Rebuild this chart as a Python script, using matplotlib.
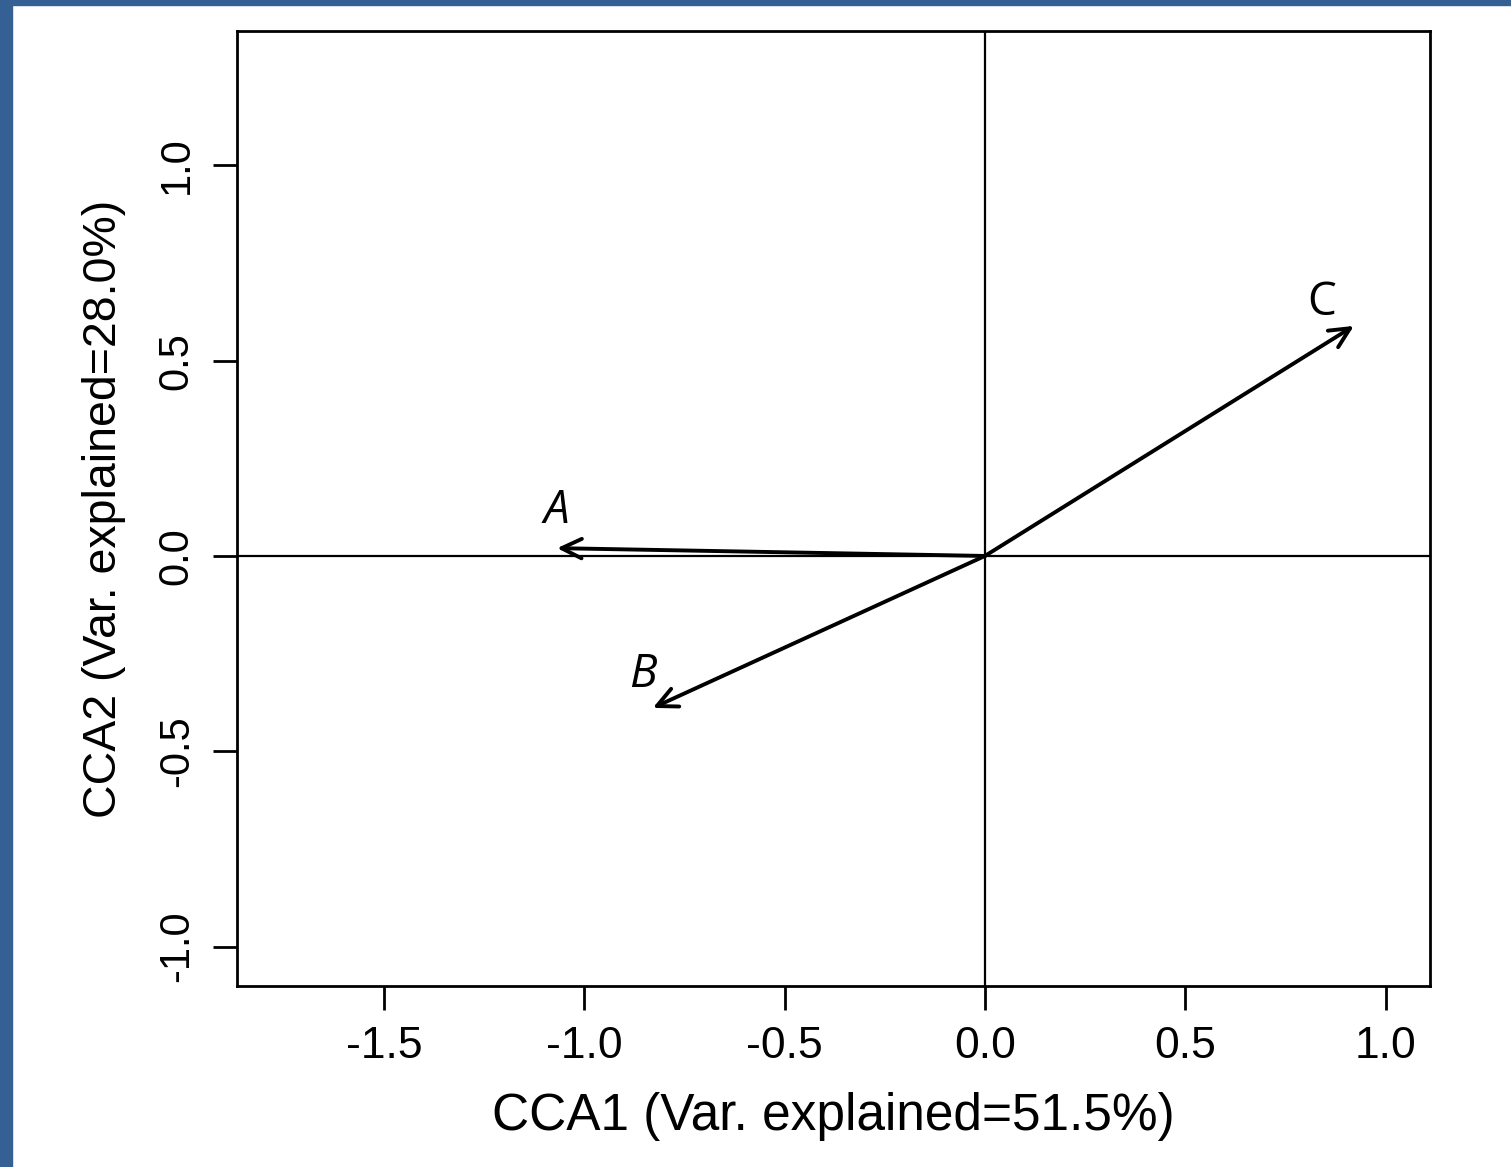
import matplotlib
matplotlib.use("Agg")
import matplotlib.pyplot as plt
from matplotlib.patches import Rectangle

# arrow tips (CCA1, CCA2)
names = ["A", "B", "C"]
cca1 = [-1.068, -0.829, 0.921]
cca2 = [0.020, -0.389, 0.589]
label_x = [-1.07, -0.855, 0.84]
label_y = [0.115, -0.305, 0.648]
label_style = ["italic", "italic", "normal"]

xticks = [-1.5, -1.0, -0.5, 0.0, 0.5, 1.0]
yticks = [-1.0, -0.5, 0.0, 0.5, 1.0]

plt.rcParams['font.family'] = ['Liberation Sans', 'DejaVu Sans']

fig = plt.figure(figsize=(15.11, 11.67), dpi=100)
ax = fig.add_axes([237/1511, 1 - 986/1167, (1430-237)/1511, (986-31)/1167])

ax.set_xlim(-1.867, 1.111)
ax.set_ylim(-1.101, 1.344)
ax.axhline(0, color='black', lw=1.6)
ax.axvline(0, color='black', lw=1.6)

for i in range(len(names)):
    ax.annotate("", xy=(cca1[i], cca2[i]), xytext=(0, 0),
                arrowprops=dict(arrowstyle="->,head_length=1.45,head_width=0.7",
                                color='black', lw=2.8, shrinkA=0, shrinkB=0))
    ax.text(label_x[i], label_y[i], names[i], fontsize=33, style=label_style[i],
            ha='center', va='center', family=['Open Sans', 'DejaVu Sans'])

ax.set_xticks(xticks)
ax.set_xticklabels([f"{v:.1f}" for v in xticks])
ax.set_yticks(yticks)
ax.set_yticklabels([f"{v:.1f}" for v in yticks], rotation=90, va='center')
ax.tick_params(length=17, width=2, pad=12)
ax.tick_params(axis='x', labelsize=32)
ax.tick_params(axis='y', labelsize=30)
for s in ax.spines.values():
    s.set_linewidth(2)

ax.set_xlabel("CCA1 (Var. explained=51.5%)", fontsize=37, labelpad=18)
ax.set_ylabel("CCA2 (Var. explained=28.0%)", fontsize=33.5, labelpad=22)

# slide border strips
fig.patches.append(Rectangle((0, 0), 12/1511, 1, transform=fig.transFigure,
                             color='#356094', zorder=10))
fig.patches.append(Rectangle((0, 1 - 5/1167), 1, 5/1167, transform=fig.transFigure,
                             color='#356094', zorder=10))

fig.savefig('out.png', dpi=100)
